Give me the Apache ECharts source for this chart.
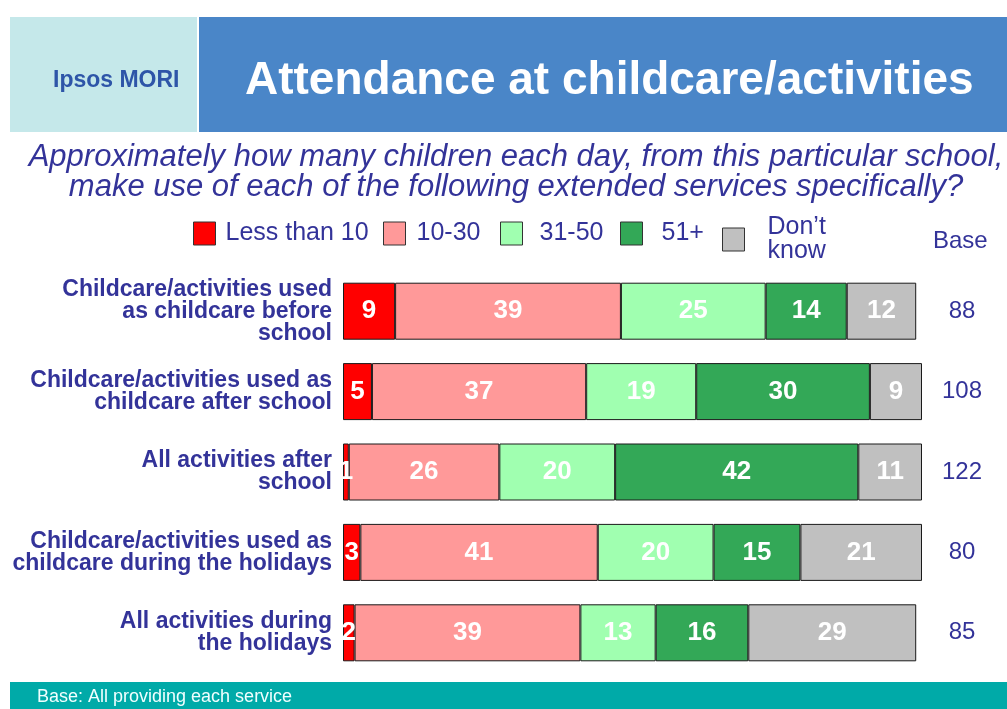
<!DOCTYPE html>
<html>
<head>
<meta charset="utf-8">
<title>Attendance at childcare/activities</title>
<script src="https://cdn.jsdelivr.net/npm/echarts@6/dist/echarts.min.js"></script>
<style>
  html, body { margin: 0; padding: 0; background: #fff; }
  #chart { width: 1007px; height: 709px; }
</style>
</head>
<body>
<div id="chart"></div>
<script>
// rows (top to bottom)
var categories = [
  "Childcare/activities used\nas childcare before\nschool",
  "Childcare/activities used as\nchildcare after school",
  "All activities after\nschool",
  "Childcare/activities used as\nchildcare during the holidays",
  "All activities during\nthe holidays"
];
// percentages per answer band
var lessThan10 = [9, 5, 1, 3, 2];
var from10to30 = [39, 37, 26, 41, 39];
var from31to50 = [25, 19, 20, 20, 13];
var over51 = [14, 30, 42, 15, 16];
var dontKnow = [12, 9, 11, 21, 29];
// base sizes shown on the right
var bases = ["88", "108", "122", "80", "85"];

var seriesNames = ["Less than 10", "10-30", "31-50", "51+", "Don’t know"];
var seriesColors = ["#FF0000", "#FF9999", "#A0FFB0", "#33A857", "#C0C0C0"];
var seriesData = [lessThan10, from10to30, from31to50, over51, dontKnow];

var navy = "#333399";
var font = "Liberation Sans, Arial, sans-serif";

var chart = echarts.init(document.getElementById("chart"));

// one legend per item so the spacing follows the slide
var legendLeft = [193, 383, 500, 620, 722];
var legendTop = [221, 221, 221, 221, 215];
var legendPad = [5, 6, 12, 14, 18];
var legends = seriesNames.map(function (name, i) {
  return {
    data: [name],
    left: legendLeft[i],
    top: legendTop[i],
    padding: 0,
    icon: "rect",
    itemWidth: 22,
    itemHeight: 23,
    itemStyle: { borderColor: "#333", borderWidth: 1 },
    formatter: function (n) {
      return n === "Don’t know" ? "Don’t\nknow" : n;
    },
    textStyle: {
      color: navy,
      fontSize: 25,
      fontFamily: font,
      lineHeight: 24,
      padding: [0, 0, 0, legendPad[i]]
    },
    selectedMode: false
  };
});

var series = seriesNames.map(function (name, i) {
  return {
    name: name,
    type: "bar",
    stack: "total",
    barWidth: 57,
    data: seriesData[i],
    itemStyle: {
      color: seriesColors[i],
      borderColor: "#1a1a1a",
      borderWidth: 1
    },
    label: {
      show: true,
      position: "inside",
      color: "#fff",
      fontSize: 26,
      fontWeight: "bold",
      fontFamily: font
    }
  };
});

chart.setOption({
  animation: false,
  title: [
    {
      text: "Attendance at childcare/activities",
      left: 240,
      top: 53,
      textStyle: { color: "#fff", fontSize: 46, fontWeight: "bold", fontFamily: font }
    },
    {
      text: "Approximately how many children each day, from this particular school,\nmake use of each of the following extended services specifically?",
      left: 511,
      top: 137,
      textAlign: "center",
      textStyle: {
        color: navy,
        fontSize: 31,
        fontStyle: "italic",
        fontWeight: "normal",
        fontFamily: font,
        lineHeight: 30
      }
    }
  ],
  graphic: [
    { type: "rect", shape: { x: 10, y: 17, width: 187, height: 115 }, style: { fill: "#C5E8EA" } },
    { type: "rect", shape: { x: 199, y: 17, width: 808, height: 115 }, style: { fill: "#4A86C8" } },
    {
      type: "text", left: 53, top: 69,
      style: { text: "Ipsos MORI", fill: "#2E55A8", font: "bold 23px " + font }
    },
    {
      type: "text", left: 933, top: 229,
      style: { text: "Base", fill: navy, font: "24px " + font }
    },
    { type: "rect", shape: { x: 10, y: 682, width: 997, height: 27 }, style: { fill: "#00AAA8" } },
    {
      type: "text", left: 37, top: 688,
      style: { text: "Base: All providing each service", fill: "#F0FFFF", font: "18px " + font }
    }
  ],
  legend: legends,
  grid: { left: 343, right: 85, top: 271, height: 402 },
  xAxis: {
    type: "value",
    min: 0,
    max: 100,
    show: false
  },
  yAxis: [
    {
      type: "category",
      data: categories,
      inverse: true,
      axisLine: { show: false },
      axisTick: { show: false },
      axisLabel: {
        margin: 11,
        color: navy,
        fontSize: 23,
        fontWeight: "bold",
        fontFamily: font,
        lineHeight: 22
      }
    },
    {
      type: "category",
      data: bases,
      inverse: true,
      position: "right",
      axisLine: { show: false },
      axisTick: { show: false },
      axisLabel: {
        margin: 40,
        align: "center",
        color: navy,
        fontSize: 24,
        fontFamily: font
      }
    }
  ],
  series: series
});
</script>
</body>
</html>
